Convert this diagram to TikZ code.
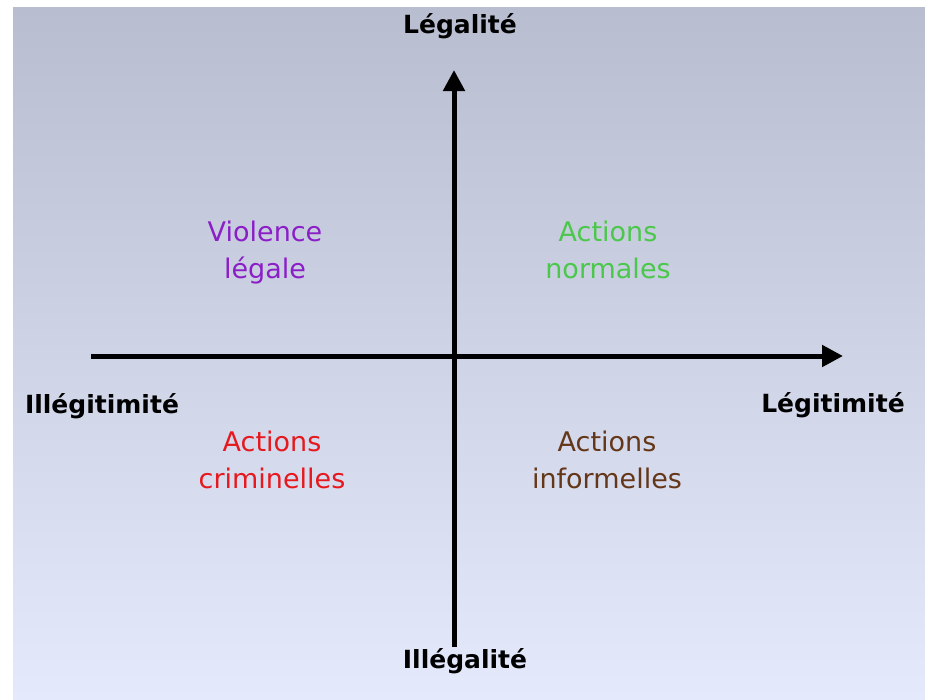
\documentclass[tikz,border=0pt]{standalone}
\usepackage{xcolor}
\usepackage{tikz}
\usepackage{fontspec}
\setmainfont{DejaVu Sans}
\usetikzlibrary{arrows.meta, positioning}
\definecolor{bgtop}{RGB}{184, 189, 207}
\definecolor{bgbottom}{RGB}{228, 233, 252}
\definecolor{violetlabel}{RGB}{140, 30, 200}
\definecolor{greenlabel}{RGB}{75, 200, 75}
\definecolor{redlabel}{RGB}{230, 25, 30}
\definecolor{brownlabel}{RGB}{100, 55, 25}
\tikzset{
    axisline/.style={line width=5pt, -{Triangle[length=21pt,width=21pt]}},
    axislabel/.style={font=\bfseries\fontsize{25}{30}\selectfont, inner sep=0pt, anchor=base},
    zonelabel/.style={font=\fontsize{27}{37}\selectfont, align=center, inner sep=0pt}
}

\begin{document}
\begin{tikzpicture}[x=1pt, y=-1pt]
        \useasboundingbox (0,0) rectangle (925,699);
        \shade[top color=bgtop, bottom color=bgbottom] (13,7) rectangle (925,699);

        % axes
        \coordinate (west) at (91,356);
        \coordinate (east) at (843,356);
        \coordinate (south) at (454,647);
        \coordinate (north) at (454,70);
        \draw[axisline] (west) -- (east);
        \draw[axisline] (south) -- (north);

        % axis labels
        \node[axislabel] (legalite) at (460,33) {Légalité};
        \node[axislabel] (illegalite) at (465,668) {Illégalité};
        \node[axislabel] (illegitimite) at (102,413) {Illégitimité};
        \node[axislabel] (legitimite) at (833,412) {Légitimité};

        % quadrants
        \node[zonelabel, text=violetlabel] (violence) at (265,253) {Violence\\légale};
        \node[zonelabel, text=greenlabel] (normales) at (608,250) {Actions\\normales};
        \node[zonelabel, text=redlabel] (criminelles) at (272,460) {Actions\\criminelles};
        \node[zonelabel, text=brownlabel] (informelles) at (607,460) {Actions\\informelles};
    \end{tikzpicture}
\end{document}
